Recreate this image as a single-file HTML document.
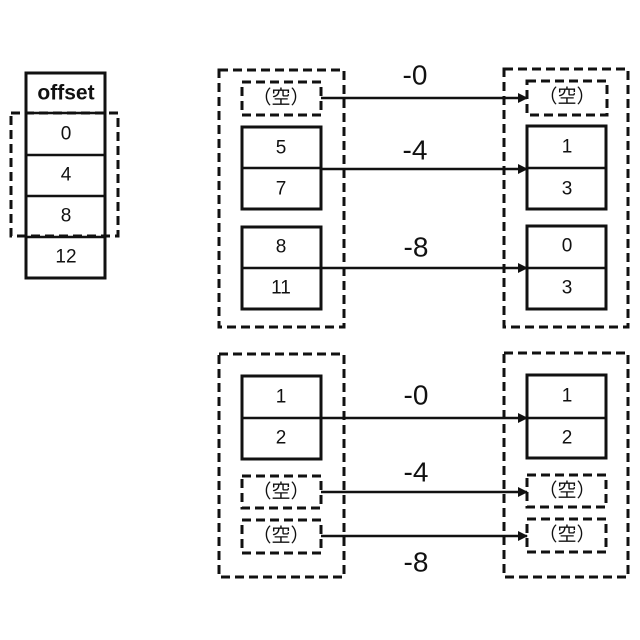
<!DOCTYPE html>
<html><head><meta charset="utf-8"><style>
html,body{margin:0;padding:0;background:#fff;}
svg{display:block;}
text{font-family:"Liberation Sans","Noto Sans CJK JP",sans-serif;fill:#111;text-anchor:middle;dominant-baseline:central;}
.s{fill:#fff;stroke:#111;stroke-width:3;}
.d{fill:none;stroke:#111;stroke-width:3;stroke-dasharray:9,5;}
.l{stroke:#111;stroke-width:2.5;fill:none;}
.n{font-size:19px;}
.lab{font-size:28px;}
</style></head><body>
<svg width="640" height="640" viewBox="0 0 640 640">
<defs><marker id="a" markerWidth="10" markerHeight="10" refX="9" refY="5" orient="auto" markerUnits="userSpaceOnUse"><path d="M0,0 L10,5 L0,10 z" fill="#111"/></marker></defs>
<!-- offset column -->
<rect class="s" x="26" y="73" width="79" height="205"/>
<line class="l" x1="26" y1="113" x2="105" y2="113" stroke-width="3"/>
<line class="l" x1="26" y1="155" x2="105" y2="155"/>
<line class="l" x1="26" y1="196" x2="105" y2="196"/>
<line class="l" x1="26" y1="237" x2="105" y2="237"/>
<text x="66" y="93" style="font-size:21px;font-weight:bold">offset</text>
<text class="n" x="66" y="134">0</text>
<text class="n" x="66" y="175">4</text>
<text class="n" x="66" y="216">8</text>
<text class="n" x="66" y="257">12</text>
<rect class="d" x="11" y="113" width="107" height="123"/>

<!-- top left group -->
<rect class="d" x="219" y="70" width="125" height="257"/>
<rect class="d" x="242" y="82" width="79" height="33"/>
<text class="n" x="281" y="98">（空）</text>
<rect class="s" x="242" y="127" width="79" height="82"/>
<line class="l" x1="242" y1="168" x2="321" y2="168"/>
<text class="n" x="281" y="148">5</text><text class="n" x="281" y="189">7</text>
<rect class="s" x="242" y="227" width="79" height="82"/>
<line class="l" x1="242" y1="268" x2="321" y2="268"/>
<text class="n" x="281" y="247">8</text><text class="n" x="281" y="288">11</text>

<!-- top right group -->
<rect class="d" x="504" y="69" width="124" height="258"/>
<rect class="d" x="527" y="81" width="80" height="34"/>
<text class="n" x="567" y="97">（空）</text>
<rect class="s" x="527" y="126" width="79" height="83"/>
<line class="l" x1="527" y1="168" x2="606" y2="168"/>
<text class="n" x="567" y="147">1</text><text class="n" x="567" y="189">3</text>
<rect class="s" x="527" y="226" width="79" height="83"/>
<line class="l" x1="527" y1="268" x2="606" y2="268"/>
<text class="n" x="567" y="246">0</text><text class="n" x="567" y="288">3</text>

<line class="l" x1="321" y1="98" x2="527" y2="98" marker-end="url(#a)"/>
<line class="l" x1="321" y1="169" x2="527" y2="169" marker-end="url(#a)"/>
<line class="l" x1="321" y1="268" x2="527" y2="268" marker-end="url(#a)"/>
<text class="lab" x="415" y="75">-0</text>
<text class="lab" x="415" y="150">-4</text>
<text class="lab" x="416" y="247">-8</text>

<!-- bottom left group -->
<rect class="d" x="219" y="354" width="125" height="223"/>
<rect class="s" x="242" y="376" width="79" height="83"/>
<line class="l" x1="242" y1="418" x2="321" y2="418"/>
<text class="n" x="281" y="397">1</text><text class="n" x="281" y="438">2</text>
<rect class="d" x="242" y="476" width="79" height="32"/>
<text class="n" x="281" y="492">（空）</text>
<rect class="d" x="242" y="520" width="79" height="33"/>
<text class="n" x="281" y="536">（空）</text>

<!-- bottom right group -->
<rect class="d" x="504" y="353" width="124" height="224"/>
<rect class="s" x="527" y="375" width="79" height="83"/>
<line class="l" x1="527" y1="418" x2="606" y2="418"/>
<text class="n" x="567" y="396">1</text><text class="n" x="567" y="438">2</text>
<rect class="d" x="527" y="475" width="79" height="32"/>
<text class="n" x="567" y="491">（空）</text>
<rect class="d" x="527" y="519" width="79" height="33"/>
<text class="n" x="567" y="535">（空）</text>

<line class="l" x1="321" y1="418" x2="527" y2="418" marker-end="url(#a)"/>
<line class="l" x1="321" y1="492" x2="527" y2="492" marker-end="url(#a)"/>
<line class="l" x1="321" y1="536" x2="527" y2="536" marker-end="url(#a)"/>
<text class="lab" x="416" y="395">-0</text>
<text class="lab" x="416" y="472">-4</text>
<text class="lab" x="416" y="562">-8</text>
</svg>
</body></html>
